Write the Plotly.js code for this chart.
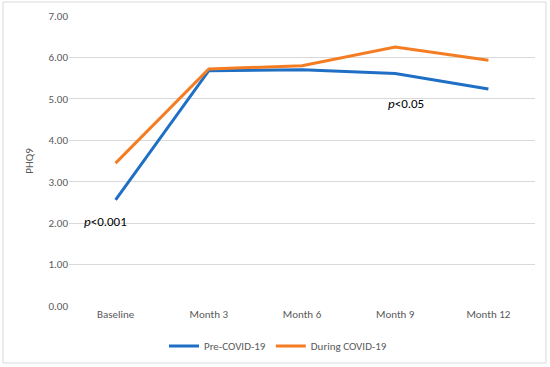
<!DOCTYPE html>
<html>
<head>
<meta charset="utf-8">
<script src="https://cdn.plot.ly/plotly-3.0.1.min.js"></script>
<style>html,body{margin:0;padding:0;background:#fff}#chart{width:550px;height:367px}</style>
</head>
<body>
<div id="chart"></div>
<script>
const categories = ["Baseline", "Month 3", "Month 6", "Month 9", "Month 12"];
const preCovid = [2.56, 5.68, 5.70, 5.61, 5.24];
const duringCovid = [3.45, 5.72, 5.80, 6.25, 5.93];
const seriesNames = ["Pre-COVID-19", "During COVID-19"];

const W = 550, H = 367, ml = 69, mr = 15, mt = 16, mb = 61;
const pw = W - ml - mr, ph = H - mt - mb;
const font = "Calibri, Carlito, 'Open Sans', sans-serif";

const traces = [
  {x: categories, y: preCovid, name: seriesNames[0], type: 'scatter', mode: 'lines',
   line: {color: '#1F6FC5', width: 3}},
  {x: categories, y: duringCovid, name: seriesNames[1], type: 'scatter', mode: 'lines',
   line: {color: '#F47D24', width: 3}}
];

const layout = {
  width: W, height: H,
  margin: {l: ml, r: mr, t: mt, b: mb, autoexpand: false},
  paper_bgcolor: '#fff', plot_bgcolor: '#fff',
  font: {family: font, size: 11, color: '#595959'},
  xaxis: {type: 'category', showgrid: false, zeroline: false, showline: false,
          ticks: '', tickfont: {size: 11, color: '#595959'}, range: [-0.5, 4.5]},
  yaxis: {range: [0, 7], dtick: 1, tickformat: '.2f', gridcolor: '#D9D9D9', gridwidth: 1,
          zeroline: false, showline: false, ticks: '', ticklen: 0,
          tickfont: {size: 11, color: '#595959'},
          title: {text: 'PHQ9', font: {size: 11, color: '#595959'}, standoff: 12}},
  showlegend: true,
  legend: {orientation: 'h', x: (278 - ml) / pw, xanchor: 'center', y: -40 / ph, yanchor: 'middle',
           font: {size: 11, color: '#595959'}, itemwidth: 30, tracegroupgap: 0},
  annotations: [
    {x: -0.11, y: 2.03, xref: 'x', yref: 'y', text: '<i>p</i><0.001', showarrow: false,
     font: {size: 13, color: '#000', family: font}},
    {x: 3.12, y: 4.9, xref: 'x', yref: 'y', text: '<i>p</i><0.05', showarrow: false,
     font: {size: 13, color: '#000', family: font}}
  ],
  shapes: [
    {type: 'rect', xref: 'paper', yref: 'paper',
     x0: (3 - ml) / pw, x1: (546 - ml) / pw,
     y0: (H - mb - 363) / ph, y1: (H - mb - 2) / ph,
     line: {color: '#D9D9D9', width: 1}, fillcolor: 'rgba(0,0,0,0)', layer: 'below'}
  ]
};

Plotly.newPlot('chart', traces, layout, {displayModeBar: false, staticPlot: true});
</script>
</body>
</html>
